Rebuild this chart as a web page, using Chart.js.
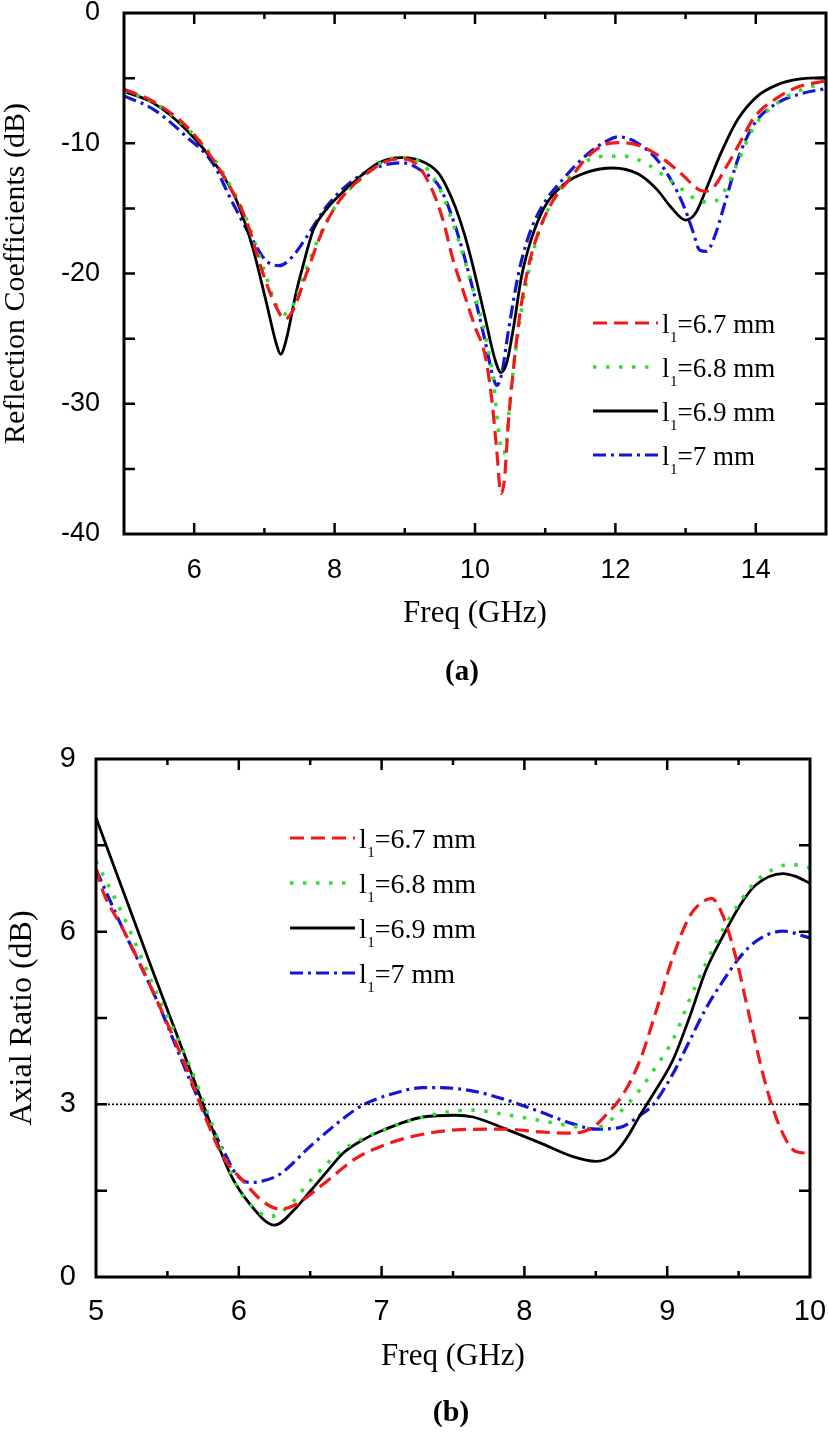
<!DOCTYPE html>
<html><head><meta charset="utf-8">
<script src="https://cdn.jsdelivr.net/npm/chart.js@4/dist/chart.umd.min.js"></script>
<style>
html,body{margin:0;padding:0;background:#fff;}
#wa{position:absolute;left:0;top:0;width:828px;height:700px;}
#wb{position:absolute;left:0;top:700px;width:828px;height:732px;}
</style></head><body>
<div id="wa"><canvas id="ca" width="828" height="700"></canvas></div>
<div id="wb"><canvas id="cb" width="828" height="732"></canvas></div>
<script>
// ---------- Data: (a) Reflection coefficients ----------
const seriesLabels = ['6.7 mm', '6.8 mm', '6.9 mm', '7 mm'];

const freqA_67 = [5.0,5.42,5.89,6.17,6.45,6.74,6.98,7.17,7.29,7.41,7.6,7.83,8.07,8.4,8.73,8.96,9.2,9.43,9.57,9.67,9.86,10.0,10.14,10.24,10.31,10.37,10.42,10.47,10.55,10.64,10.76,10.9,11.09,11.37,11.61,11.85,12.04,12.32,12.6,12.93,13.17,13.27,13.41,13.56,13.74,13.98,14.31,14.59,15.0];
const s11_67   = [-5.85,-6.8,-8.7,-10.5,-12.8,-15.9,-20.0,-22.6,-23.5,-22.8,-20.0,-16.7,-14.4,-12.6,-11.4,-11.2,-11.8,-14.1,-16.4,-18.6,-21.8,-24.1,-26.2,-29.7,-33.6,-36.9,-35.8,-31.8,-27.2,-23.1,-19.5,-16.9,-14.6,-12.6,-11.0,-10.1,-9.95,-10.15,-10.9,-12.3,-13.5,-13.7,-13.3,-12.0,-10.3,-8.0,-6.5,-5.7,-5.2];

const freqA_68 = [5.0,5.42,5.89,6.2,6.5,6.75,7.0,7.17,7.3,7.43,7.6,7.83,8.07,8.4,8.73,8.96,9.2,9.48,9.72,9.96,10.14,10.26,10.33,10.39,10.44,10.5,10.6,10.72,10.86,11.04,11.33,11.61,11.85,12.13,12.42,12.79,13.02,13.22,13.39,13.56,13.74,13.98,14.31,14.64,15.0];
const s11_68   = [-5.95,-6.85,-8.8,-10.6,-13.1,-15.9,-19.8,-22.4,-23.1,-22.2,-19.6,-16.6,-14.4,-12.6,-11.3,-11.1,-11.4,-13.3,-16.7,-21.0,-24.6,-28.2,-31.8,-33.8,-33.3,-29.7,-25.1,-21.0,-17.7,-15.1,-12.7,-11.3,-11.0,-11.0,-11.5,-12.9,-13.8,-14.5,-14.5,-13.6,-11.5,-8.7,-6.9,-5.9,-5.4];

const freqA_69 = [5.0,5.42,5.89,6.36,6.6,6.83,7.02,7.17,7.23,7.31,7.45,7.56,7.7,7.88,8.25,8.63,8.96,9.29,9.48,9.6,9.72,9.85,9.96,10.14,10.29,10.37,10.45,10.55,10.66,10.8,10.99,11.28,11.61,11.96,12.32,12.6,12.79,13.0,13.15,13.31,13.5,13.74,14.02,14.31,14.59,15.0];
const s11_69   = [-6.03,-6.92,-8.98,-12.05,-14.36,-17.95,-22.05,-25.4,-26.2,-25.1,-21.5,-19.2,-16.6,-15.1,-13.1,-11.5,-11.1,-11.5,-12.3,-13.4,-14.9,-17.0,-19.2,-23.3,-26.7,-27.6,-26.9,-24.1,-20.3,-17.4,-14.9,-13.1,-12.2,-11.9,-12.35,-13.6,-14.9,-15.9,-15.3,-13.3,-10.8,-8.2,-6.4,-5.5,-5.1,-4.95];

const freqA_70 = [5.0,5.42,5.89,6.26,6.55,6.83,7.02,7.21,7.4,7.6,7.88,8.25,8.63,8.96,9.29,9.5,9.72,9.96,10.14,10.26,10.31,10.38,10.47,10.62,10.76,10.95,11.28,11.61,11.85,12.04,12.32,12.6,12.79,12.98,13.1,13.2,13.3,13.41,13.56,13.74,13.98,14.31,14.64,15.0];
const s11_70   = [-6.36,-7.4,-9.5,-11.5,-14.6,-17.4,-19.0,-19.4,-18.7,-17.2,-14.9,-12.9,-11.8,-11.5,-12.3,-13.4,-16.4,-21.0,-25.1,-28.0,-28.6,-27.7,-24.6,-20.0,-17.2,-14.9,-12.6,-10.8,-9.9,-9.5,-10.0,-11.3,-12.8,-14.9,-16.7,-18.2,-18.3,-17.2,-14.6,-11.3,-8.5,-6.9,-6.2,-5.8];

const xTicksA = [6, 8, 10, 12, 14];
const yTicksA = [0, -10, -20, -30, -40];
const xMajorMarksA = [6, 8, 10, 12, 14];
const xMinorMarksA = [7, 9, 11, 13];
const yMarksA = [-5, -10, -15, -20, -25, -30, -35];

// ---------- Data: (b) Axial ratio ----------
const freqB_67 = [5.0,5.05,5.19,5.42,5.66,5.75,5.89,6.03,6.17,6.29,6.4,6.59,6.82,7.06,7.29,7.55,7.87,8.11,8.34,8.48,8.57,8.69,8.81,8.92,9.04,9.16,9.25,9.31,9.39,9.48,9.58,9.67,9.74,9.83,9.9,10.0];
const ar_67    = [7.1,6.69,6.04,4.84,3.47,2.87,2.09,1.67,1.31,1.18,1.26,1.61,2.06,2.33,2.48,2.56,2.57,2.52,2.5,2.6,2.81,3.17,3.77,4.6,5.56,6.28,6.52,6.58,6.28,5.56,4.48,3.53,2.93,2.39,2.18,2.15];

const freqB_68 = [5.0,5.19,5.42,5.66,5.77,5.89,5.98,6.08,6.22,6.36,6.5,6.73,7.0,7.29,7.5,7.64,7.87,8.11,8.34,8.48,8.67,8.81,8.92,9.04,9.16,9.27,9.39,9.51,9.62,9.74,9.86,10.0];
const ar_68    = [7.23,6.28,4.96,3.65,2.93,2.15,1.61,1.26,1.05,1.26,1.67,2.21,2.54,2.78,2.88,2.9,2.82,2.72,2.62,2.58,2.87,3.26,3.65,4.12,4.84,5.44,6.04,6.52,6.87,7.08,7.17,7.11];

const freqB_69 = [5.0,5.4,5.75,5.94,6.08,6.25,6.4,6.5,6.62,6.73,6.86,7.0,7.29,7.52,7.64,7.87,8.11,8.34,8.5,8.62,8.71,8.81,8.9,9.04,9.16,9.27,9.39,9.51,9.62,9.81,9.9,10.0];
const ar_69    = [7.98,5.3,3.0,1.79,1.26,0.9,1.2,1.49,1.84,2.15,2.37,2.54,2.78,2.81,2.78,2.57,2.33,2.09,2.01,2.12,2.39,2.81,3.17,3.77,4.54,5.32,5.92,6.46,6.81,7.01,6.96,6.84];

const freqB_70 = [5.0,5.19,5.42,5.66,5.77,5.89,5.98,6.08,6.17,6.29,6.5,6.73,6.87,7.06,7.29,7.41,7.64,7.87,8.11,8.34,8.5,8.67,8.81,8.9,9.04,9.16,9.27,9.39,9.51,9.62,9.81,10.0];
const ar_70    = [7.08,6.04,4.84,3.41,2.81,2.21,1.79,1.64,1.67,1.79,2.27,2.75,2.99,3.17,3.29,3.29,3.23,3.08,2.87,2.66,2.57,2.6,2.81,2.99,3.53,4.12,4.66,5.14,5.56,5.83,6.01,5.89];

const refFreqB = [5, 10];
const refArB   = [3, 3];

const xTicksB = [5, 6, 7, 8, 9, 10];
const yTicksB = [0, 3, 6, 9];
const xMajorMarksB = [6, 7, 8, 9];
const xMinorMarksB = [5.5, 6.5, 7.5, 8.5, 9.5];
const yMarksB = [1.5, 3, 4.5, 6, 7.5];

// ---------- Styles ----------
const RED = '#f01a1a', GREEN = '#2fe02f', BLACK = '#000000', BLUE = '#1515d6';
const styles = [
  {color: RED,   width: 3.2, dash: [14, 7]},
  {color: GREEN, width: 3.6, dash: [3.5, 9.5]},
  {color: BLACK, width: 2.8, dash: []},
  {color: BLUE,  width: 3.2, dash: [13, 5, 3, 5]}
];

function pts(xs, ys) { return xs.map((x, i) => ({x: x, y: ys[i]})); }

function makeSet(label, xs, ys, st) {
  return {
    label: label, data: pts(xs, ys), borderColor: st.color, backgroundColor: st.color,
    borderWidth: st.width, borderDash: st.dash, pointRadius: 0, fill: false,
    cubicInterpolationMode: 'monotone', borderCapStyle: 'butt'
  };
}

function drawLegend(ctx, x0, y0, dy, fontPx, subPx) {
  seriesLabels.forEach((lab, i) => {
    const st = styles[i];
    const y = y0 + i * dy;
    ctx.save();
    ctx.strokeStyle = st.color; ctx.lineWidth = st.width; ctx.setLineDash(st.dash);
    ctx.lineCap = 'butt';
    ctx.beginPath(); ctx.moveTo(x0, y); ctx.lineTo(x0 + 65, y); ctx.stroke();
    ctx.restore();
    ctx.save();
    ctx.fillStyle = '#000'; ctx.textBaseline = 'alphabetic'; ctx.textAlign = 'left';
    let tx = x0 + 69;
    ctx.font = fontPx + 'px "Liberation Serif", "Times New Roman", serif';
    ctx.fillText('l', tx, y + 10); tx += ctx.measureText('l').width + 0.5;
    ctx.font = subPx + 'px "Liberation Serif", "Times New Roman", serif';
    ctx.fillText('1', tx, y + 19); tx += ctx.measureText('1').width;
    ctx.font = fontPx + 'px "Liberation Serif", "Times New Roman", serif';
    ctx.fillText('=' + lab, tx, y + 10);
    ctx.restore();
  });
}

function decorPlugin(spec) {
  return {
    id: 'decor_' + spec.name,
    afterDraw(chart) {
      const ctx = chart.ctx, a = chart.chartArea, x = chart.scales.x, y = chart.scales.y;
      ctx.save();
      ctx.strokeStyle = '#000'; ctx.lineWidth = 2.5; ctx.setLineDash([]); ctx.lineCap = 'butt';
      ctx.beginPath();
      spec.xMajor.forEach(v => { const p = x.getPixelForValue(v);
        ctx.moveTo(p, a.bottom); ctx.lineTo(p, a.bottom - 11);
        ctx.moveTo(p, a.top); ctx.lineTo(p, a.top + 11); });
      spec.xMinor.forEach(v => { const p = x.getPixelForValue(v);
        ctx.moveTo(p, a.bottom); ctx.lineTo(p, a.bottom - 6);
        ctx.moveTo(p, a.top); ctx.lineTo(p, a.top + 6); });
      spec.yMarks.forEach(v => { const p = y.getPixelForValue(v);
        ctx.moveTo(a.left, p); ctx.lineTo(a.left + 11, p);
        ctx.moveTo(a.right, p); ctx.lineTo(a.right - 11, p); });
      ctx.stroke();
      ctx.lineWidth = 3;
      ctx.strokeRect(a.left, a.top, a.right - a.left, a.bottom - a.top);
      ctx.restore();

      // legend
      drawLegend(ctx, a.left + spec.legX, a.top + spec.legY, spec.legDy, spec.legFont, spec.legSub);

      // titles
      ctx.save();
      ctx.fillStyle = '#000'; ctx.textAlign = 'center'; ctx.textBaseline = 'alphabetic';
      ctx.font = spec.xTitleFont + 'px "Liberation Serif", "Times New Roman", serif';
      ctx.fillText('Freq (GHz)', (a.left + a.right) / 2, spec.xTitleY);
      ctx.font = 'bold ' + spec.capFont + 'px "Liberation Serif", "Times New Roman", serif';
      ctx.fillText(spec.caption, spec.capX, spec.capY);
      ctx.translate(spec.yTitleX, (a.top + a.bottom) / 2);
      ctx.rotate(-Math.PI / 2);
      ctx.font = spec.yTitleFont + 'px "Liberation Serif", "Times New Roman", serif';
      ctx.fillText(spec.yTitle, 0, 0);
      ctx.restore();
    }
  };
}

function makeScales(o) {
  return {
    x: {
      type: 'linear', min: o.xmin, max: o.xmax,
      grid: {display: false}, border: {display: false},
      afterBuildTicks: s => { s.ticks = o.xTicks.map(v => ({value: v})); },
      afterFit: s => { s.height = o.xHeight; s.paddingLeft = 0; s.paddingRight = 0; },
      ticks: {padding: o.xPad, color: '#000', maxRotation: 0, autoSkip: false,
              font: {family: '"Liberation Sans", Arial, sans-serif', size: o.tickSize}}
    },
    y: {
      type: 'linear', min: o.ymin, max: o.ymax,
      grid: {display: false}, border: {display: false},
      afterBuildTicks: s => { s.ticks = o.yTicks.map(v => ({value: v})); },
      afterFit: s => { s.width = o.yWidth; s.paddingTop = 0; s.paddingBottom = 0; },
      ticks: {padding: o.yPad, color: '#000', autoSkip: false,
              font: {family: '"Liberation Sans", Arial, sans-serif', size: o.tickSize}}
    }
  };
}

const commonOpts = {
  responsive: false, animation: false, devicePixelRatio: 1,
  plugins: {legend: {display: false}, tooltip: {enabled: false}},
  elements: {line: {tension: 0}}
};

// ---------- Chart (a) ----------
new Chart(document.getElementById('ca'), {
  type: 'line',
  data: {datasets: [
    makeSet('l1=' + seriesLabels[0], freqA_67, s11_67, styles[0]),
    makeSet('l1=' + seriesLabels[1], freqA_68, s11_68, styles[1]),
    makeSet('l1=' + seriesLabels[2], freqA_69, s11_69, styles[2]),
    makeSet('l1=' + seriesLabels[3], freqA_70, s11_70, styles[3])
  ]},
  options: Object.assign({}, commonOpts, {
    layout: {padding: {top: 13, right: 2, left: 0, bottom: 0}},
    scales: makeScales({xmin: 5, xmax: 15, ymin: -40, ymax: 0, xTicks: xTicksA, yTicks: yTicksA,
                        xHeight: 166, yWidth: 124, xPad: 12, yPad: 16, tickSize: 27})
  }),
  plugins: [decorPlugin({name: 'a', xMajor: xMajorMarksA, xMinor: xMinorMarksA, yMarks: yMarksA,
    legX: 469, legY: 310, legDy: 44, legFont: 27, legSub: 15,
    xTitleFont: 31, xTitleY: 622, caption: '(a)', capFont: 29, capX: 462, capY: 680,
    yTitle: 'Reflection Coefficients (dB)', yTitleFont: 30, yTitleX: 24})]
});

// ---------- Chart (b) ----------
new Chart(document.getElementById('cb'), {
  type: 'line',
  data: {datasets: [
    makeSet('l1=' + seriesLabels[0], freqB_67, ar_67, styles[0]),
    makeSet('l1=' + seriesLabels[1], freqB_68, ar_68, styles[1]),
    makeSet('l1=' + seriesLabels[2], freqB_69, ar_69, styles[2]),
    makeSet('l1=' + seriesLabels[3], freqB_70, ar_70, styles[3]),
    {label: '3 dB', data: pts(refFreqB, refArB), borderColor: '#000', borderWidth: 1.6,
     borderDash: [2, 2], pointRadius: 0, fill: false, order: 10}
  ]},
  options: Object.assign({}, commonOpts, {
    layout: {padding: {top: 59, right: 18, left: 0, bottom: 0}},
    scales: makeScales({xmin: 5, xmax: 10, ymin: 0, ymax: 9, xTicks: xTicksB, yTicks: yTicksB,
                        xHeight: 155, yWidth: 96, xPad: 10, yPad: 12, tickSize: 29})
  }),
  plugins: [decorPlugin({name: 'b', xMajor: xMajorMarksB, xMinor: xMinorMarksB, yMarks: yMarksB,
    legX: 194, legY: 79, legDy: 45, legFont: 28, legSub: 15,
    xTitleFont: 31, xTitleY: 665, caption: '(b)', capFont: 30, capX: 451, capY: 721,
    yTitle: 'Axial Ratio (dB)', yTitleFont: 32, yTitleX: 31})]
});
</script>
</body></html>
